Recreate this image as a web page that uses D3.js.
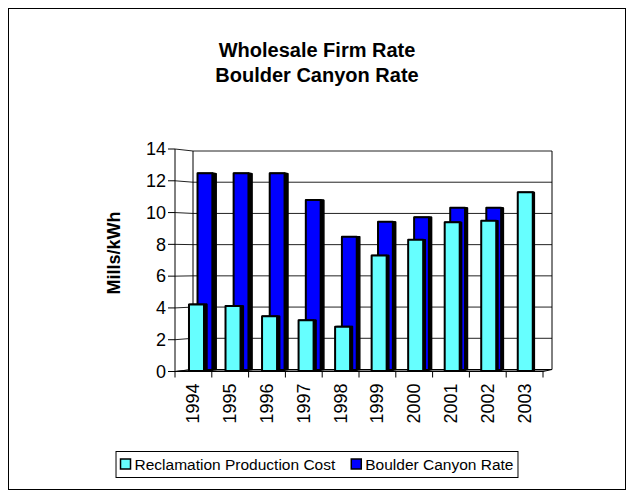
<!DOCTYPE html>
<html>
<head>
<meta charset="utf-8">
<script src="https://cdn.jsdelivr.net/npm/d3@7"></script>
<style>
body{margin:0;background:#fff}
svg{display:block;font-family:"Liberation Sans",Arial,sans-serif}
</style>
</head>
<body>
<div id="chart"></div>
<script>
var years=["1994","1995","1996","1997","1998","1999","2000","2001","2002","2003"]
var reclamation=[4.2,4.1,3.45,3.2,2.8,7.3,8.3,9.4,9.5,11.3]
var boulder=[12.55,12.55,12.55,10.85,8.5,9.45,9.75,10.35,10.35,0]
var yTicks=[0,2,4,6,8,10,12,14]

var svgWidth=634
var svgHeight=496
var n=years.length

var svg=d3.select("#chart")
    .append("svg")
    .attr("width", svgWidth)
    .attr("height", svgHeight)

svg.append("rect")
    .attr("x", 8.5).attr("y", 8.5)
    .attr("width", 617).attr("height", 481)
    .attr("fill", "#fff").attr("stroke", "#000")

// front plane and back wall scales (fake perspective)
var xFront=d3.scaleLinear().domain([0,n]).range([175,543])
var xBack=d3.scaleLinear().domain([0,n]).range([193,552])
var yFront=d3.scaleLinear().domain([0,14]).range([371.5,149])
var yBack=d3.scaleLinear().domain([0,14]).range([369.5,151])

function P(u,v,z){
    var x=xFront(u)*(1-z)+xBack(u)*z
    var y=yFront(v)*(1-z)+yBack(v)*z
    return [x,y]
}
function poly(pts){ return "M"+pts.map(p=>p.join(",")).join("L")+"Z" }

var g=svg.append("g")

// back wall + side wall gridlines
yTicks.forEach(v=>{
    if(v>0){
        g.append("line")
            .attr("x1",P(0,v,1)[0]).attr("y1",P(0,v,1)[1])
            .attr("x2",P(n,v,1)[0]).attr("y2",P(n,v,1)[1])
            .attr("stroke","#222").attr("stroke-width",1)
    }
    g.append("line")
        .attr("x1",P(0,v,0)[0]).attr("y1",P(0,v,0)[1])
        .attr("x2",P(0,v,1)[0]).attr("y2",P(0,v,1)[1])
        .attr("stroke","#222").attr("stroke-width",1)
})
// wall edges
;[[P(0,0,1),P(0,14,1)],[P(n,0,1),P(n,14,1)],[P(0,0,0),P(0,14,0)]].forEach(s=>{
    g.append("line")
        .attr("x1",s[0][0]).attr("y1",s[0][1])
        .attr("x2",s[1][0]).attr("y2",s[1][1])
        .attr("stroke","#000").attr("stroke-width",1)
})

// floor
g.append("path")
    .attr("d", poly([P(0,0,0),P(n,0,0),P(n,0,1),P(0,0,1)]))
    .attr("fill","#808080").attr("stroke","#000").attr("stroke-width",1)

// y ticks + labels
yTicks.forEach(v=>{
    var p=P(0,v,0)
    g.append("line")
        .attr("x1",p[0]-7).attr("x2",p[0]).attr("y1",p[1]).attr("y2",p[1])
        .attr("stroke","#000")
    g.append("text")
        .attr("x",p[0]-9).attr("y",p[1])
        .attr("dy","0.35em")
        .attr("text-anchor","end")
        .attr("font-size",18)
        .text(v)
})

// category ticks + labels
d3.range(n+1).forEach(i=>{
    var p=P(i,0,0)
    g.append("line")
        .attr("x1",p[0]).attr("x2",p[0]).attr("y1",p[1]).attr("y2",p[1]+6)
        .attr("stroke","#000")
})
years.forEach((yr,i)=>{
    var p=P(i+0.5,0,0)
    g.append("text")
        .attr("transform",`translate(${p[0]+6},${p[1]+12}) rotate(-90)`)
        .attr("text-anchor","end")
        .attr("font-size",18)
        .text(yr)
})

// bars
function drawBars(vals, color, z0, z1){
    vals.forEach((v,i)=>{
        if(!v) return
        var u0=i+0.235, u1=i+0.646
        g.append("path")
            .attr("d", poly([P(u1,0,z0),P(u1,0,z1),P(u1,v,z1),P(u1,v,z0)]))
            .attr("fill","#000").attr("stroke","#000").attr("stroke-width",1.5)
            .attr("stroke-linejoin","round")
        g.append("path")
            .attr("d", poly([P(u0,v,z0),P(u1,v,z0),P(u1,v,z1),P(u0,v,z1)]))
            .attr("fill","#000").attr("stroke","#000").attr("stroke-width",1.5)
        g.append("path")
            .attr("d", poly([P(u0,0,z0),P(u1,0,z0),P(u1,v,z0),P(u0,v,z0)]))
            .attr("fill",color).attr("stroke","#000").attr("stroke-width",2)
            .attr("stroke-linejoin","round")
    })
}
drawBars(boulder,"#0000ff",0.78,1.0)
drawBars(reclamation,"#66ffff",0.3,0.47)

// y axis title
svg.append("text")
    .attr("transform","translate(120,253) rotate(-90)")
    .attr("text-anchor","middle")
    .attr("font-size",18).attr("font-weight","bold")
    .text("Mills/kWh")

// title
svg.append("text").attr("x",317).attr("y",57)
    .attr("text-anchor","middle").attr("font-size",20).attr("font-weight","bold")
    .text("Wholesale Firm Rate")
svg.append("text").attr("x",317).attr("y",82)
    .attr("text-anchor","middle").attr("font-size",20).attr("font-weight","bold")
    .text("Boulder Canyon Rate")

// legend
var legend=svg.append("g")
var box=legend.append("rect")
    .attr("y",451.5).attr("height",26)
    .attr("fill","#fff").attr("stroke","#000")
var legendNames=["Reclamation Production Cost","Boulder Canyon Rate"]
var legendColors=["#66ffff","#0000ff"]
var lx=0
var parts=legendNames.map((name,i)=>{
    var sq=legend.append("rect")
        .attr("y",459).attr("width",10).attr("height",10)
        .attr("fill",legendColors[i]).attr("stroke","#000").attr("stroke-width",1.5)
    var t=legend.append("text")
        .attr("y",469.5)
        .attr("font-size",15.5)
        .text(name)
    var w=t.node().getComputedTextLength()
    sq.attr("x",lx); t.attr("x",lx+14)
    lx+=14+w+16
    return w
})
var totalW=lx-16
var startX=317-totalW/2
legend.attr("transform",`translate(${startX},0)`)
box.attr("x",-4.5).attr("width",totalW+9)
</script>
</body>
</html>
